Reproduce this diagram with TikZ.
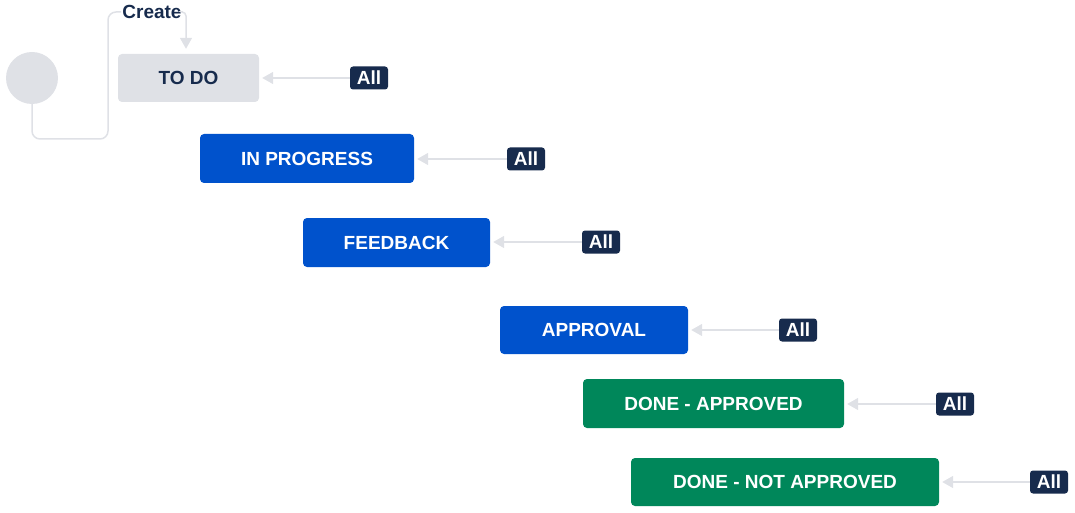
\documentclass[tikz,border=0pt]{standalone}
\usepackage{fontspec}
\setmainfont{Liberation Sans}
\usetikzlibrary{arrows.meta}
\definecolor{todo}{HTML}{DFE1E6}
\definecolor{navy}{HTML}{172B4D}
\definecolor{jblue}{HTML}{0052CC}
\definecolor{jgreen}{HTML}{00875A}
\definecolor{lgray}{HTML}{DFE1E6}
\tikzset{
  status/.style={rounded corners=4pt, font=\fontsize{19}{21}\selectfont\bfseries, inner sep=0pt},
  allbox/.style={rounded corners=3pt, fill=navy, text=white, minimum width=38pt, minimum height=23pt, inner sep=0pt, font=\fontsize{19}{21}\selectfont\bfseries},
  trans/.style={draw=lgray, line width=1.5pt, -{Triangle[width=12pt,length=11pt]}},
}
\begin{document}
\begin{tikzpicture}[x=1pt,y=-1pt]
\useasboundingbox (0,0) rectangle (1075,513);
\node[circle, fill=lgray, minimum size=52pt, inner sep=0pt] (start) at (32,78) {};
\node[status, fill=todo, text=navy, minimum width=141pt, minimum height=48pt] (todo) at (188.5,78) {TO DO};
\node[status, fill=jblue, text=white, minimum width=214pt, minimum height=49pt] (inprog) at (307,158.5) {IN PROGRESS};
\node[status, fill=jblue, text=white, minimum width=187pt, minimum height=49pt] (feed) at (396.5,242.5) {FEEDBACK};
\node[status, fill=jblue, text=white, minimum width=188pt, minimum height=48pt] (appr) at (594,330) {APPROVAL};
\node[status, fill=jgreen, text=white, minimum width=261pt, minimum height=49pt] (done) at (713.5,403.5) {DONE - APPROVED};
\node[status, fill=jgreen, text=white, minimum width=308pt, minimum height=48pt] (notdone) at (785,482) {DONE - NOT APPROVED};
\node[allbox] (a1) at (369,78) {All};
\node[allbox] (a2) at (526,159) {All};
\node[allbox] (a3) at (601,242) {All};
\node[allbox] (a4) at (798,330) {All};
\node[allbox] (a5) at (955,404) {All};
\node[allbox] (a6) at (1049,482) {All};
\foreach \a/\b in {a1/todo,a2/inprog,a3/feed,a4/appr,a5/done,a6/notdone}
  \draw[trans, shorten >=3pt] (\a.west) -- (\a.west -| \b.east);
\node[font=\fontsize{19}{21}\selectfont\bfseries, text=navy, inner sep=1pt] (create) at (152,12) {Create};
\draw[draw=lgray, line width=1.5pt, rounded corners=8pt] (start.south) -- (32,139) -- (108,139) -- (108,12) -- (create.west);
\draw[trans, rounded corners=4pt, shorten >=5pt] (create.east) -- (186,12) -- (todo.north -| 186,0);
\end{tikzpicture}
\end{document}
